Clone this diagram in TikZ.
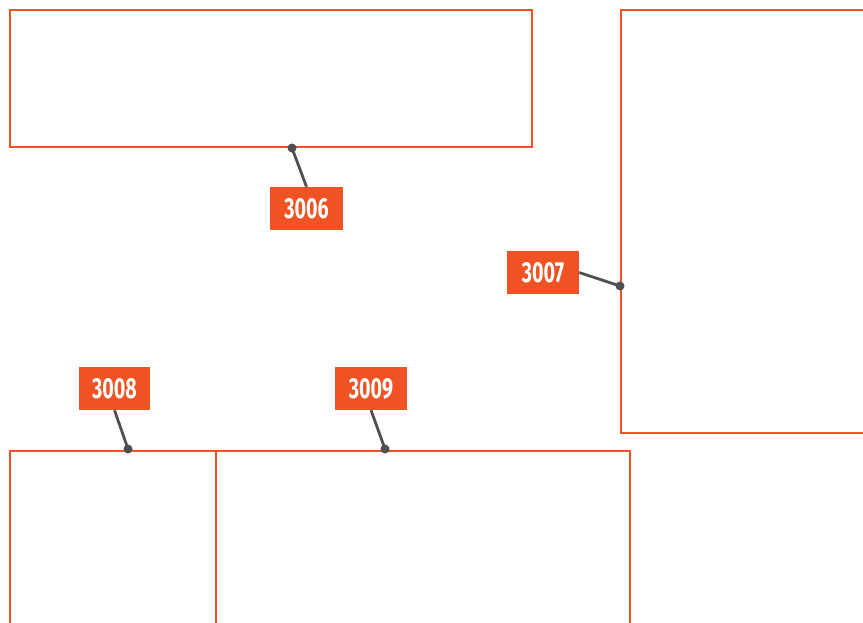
\documentclass[tikz,border=0pt]{standalone}
\usepackage{fontspec}
\newfontfamily\tagfont[FakeStretch=0.68]{Fira Sans}
\usetikzlibrary{positioning}
\definecolor{tagorange}{HTML}{F05323}
\definecolor{leadgray}{HTML}{4D4F53}
\tikzset{
  panel/.style={draw=tagorange, line width=1.5pt},
  tag/.style={fill=tagorange, text=white, font=\tagfont\bfseries\fontsize{29}{29}\selectfont,
    minimum width=72pt, minimum height=43pt, inner sep=0pt},
  lead/.style={draw=leadgray, line width=2.8pt},
  pin/.style={fill=leadgray}
}
\begin{document}
\begin{tikzpicture}[x=1pt,y=-1pt]
\useasboundingbox (0,0) rectangle (863,623);
\clip (0,0) rectangle (863,623);
\fill[white] (0,0) rectangle (863,623);

\draw[panel] (10,10) rectangle (532,147);
\draw[panel] (621,10) rectangle (880,433);
\draw[panel] (10,451) rectangle (216,640);
\draw[panel] (216,451) rectangle (630,640);

\coordinate (p3006) at (292,148);
\coordinate (p3007) at (620,286);
\coordinate (p3008) at (128,449);
\coordinate (p3009) at (385,449);

\node[tag, minimum width=73pt] (t3006) at (306.5,208.5) {3006};
\node[tag] (t3007) at (543,272.5) {3007};
\node[tag, minimum width=71pt] (t3008) at (114.5,388.5) {3008};
\node[tag] (t3009) at (371,388.5) {3009};

\draw[lead] (t3006.north) -- (p3006);
\draw[lead] (t3007.east) -- (p3007);
\draw[lead] (t3008.south) -- (p3008);
\draw[lead] (t3009.south) -- (p3009);
\foreach \p in {p3006,p3007,p3008,p3009}
  \fill[pin] (\p) circle (4.5pt);
\end{tikzpicture}
\end{document}
